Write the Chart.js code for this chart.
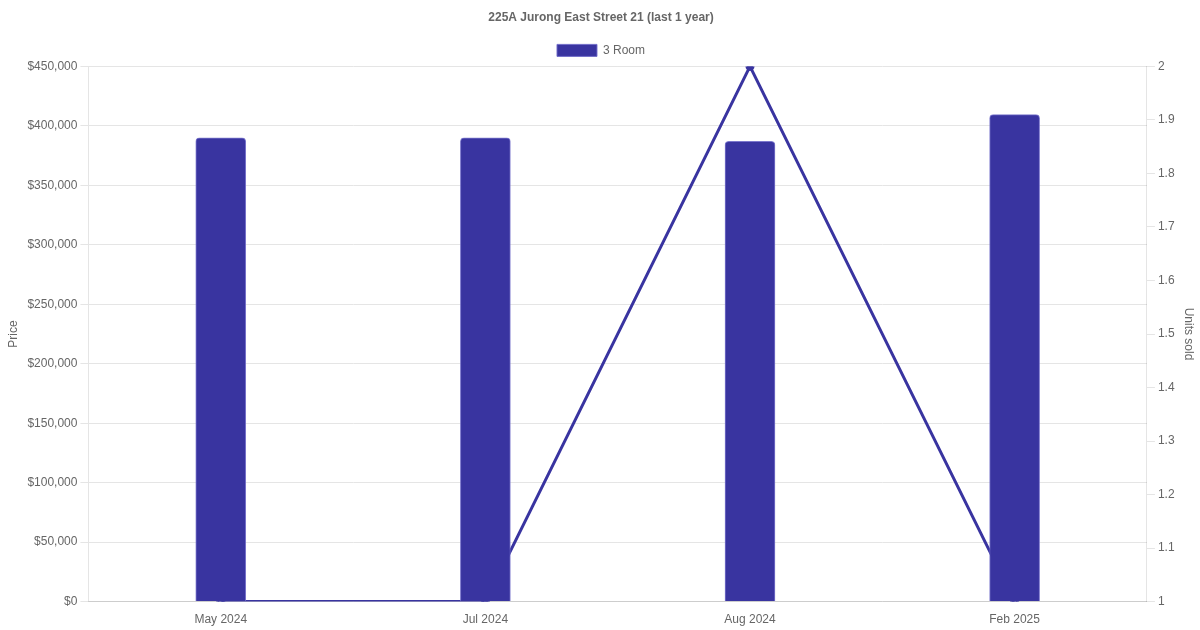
<!DOCTYPE html>
<html><head><meta charset="utf-8">
<script src="https://cdn.jsdelivr.net/npm/chart.js@4/dist/chart.umd.min.js"></script>
<style>html,body{margin:0;padding:0;background:#fff}#wrap{width:1200px;height:630px}</style>
</head><body><div id="wrap"><canvas id="c"></canvas></div>
<script>
const categories = ["May 2024", "Jul 2024", "Aug 2024", "Feb 2025"];
const priceValues = [390000, 390000, 387000, 409500];
const unitsSold = [1, 1, 2, 1];
const seriesName = "3 Room";
const chartTitle = "225A Jurong East Street 21 (last 1 year)";

Chart.defaults.font.family = "'Liberation Sans', Arial, Helvetica, sans-serif";
Chart.defaults.font.size = 12;
Chart.defaults.color = "#666";

new Chart(document.getElementById('c'), {
  data: {
    labels: categories,
    datasets: [
      {
        type: 'bar', label: seriesName, data: priceValues, yAxisID: 'y',
        backgroundColor: '#3934A0', borderColor: 'rgba(110,105,200,0.9)', borderWidth: 1,
        borderRadius: 4, barThickness: 50, order: 1
      },
      {
        type: 'line', label: 'Units', data: unitsSold, yAxisID: 'y1',
        borderColor: '#3934A0', backgroundColor: '#3934A0', borderWidth: 3,
        pointRadius: 3, pointHoverRadius: 3, tension: 0, fill: false, order: 2
      }
    ]
  },
  options: {
    responsive: true, maintainAspectRatio: false, animation: false,
    layout: { padding: { left: 2, right: 0, top: 0, bottom: 0 } },
    plugins: {
      title: { display: true, text: chartTitle, font: { size: 12, weight: 'bold' }, color: '#666', padding: { top: 10, bottom: 10 } },
      legend: {
        labels: { boxWidth: 40, boxHeight: 12, color: '#666', filter: (item) => item.text === seriesName }
      },
      tooltip: { enabled: false }
    },
    scales: {
      x: {
        grid: { display: false },
        ticks: { color: '#666' }
      },
      y: {
        position: 'left', min: 0, max: 450000,
        ticks: { stepSize: 50000, color: '#666', padding: 3, callback: v => '$' + v.toLocaleString('en-US') },
        grid: { color: '#e5e5e5' },
        title: { display: true, text: 'Price', color: '#666' }
      },
      y1: {
        position: 'right', min: 1, max: 2,
        ticks: { stepSize: 0.1, color: '#666', padding: 3, callback: v => String(Math.round(v * 10) / 10) },
        grid: { drawOnChartArea: false, color: '#e5e5e5' },
        title: { display: true, text: 'Units sold', color: '#666' }
      }
    }
  }
});
</script></body></html>
